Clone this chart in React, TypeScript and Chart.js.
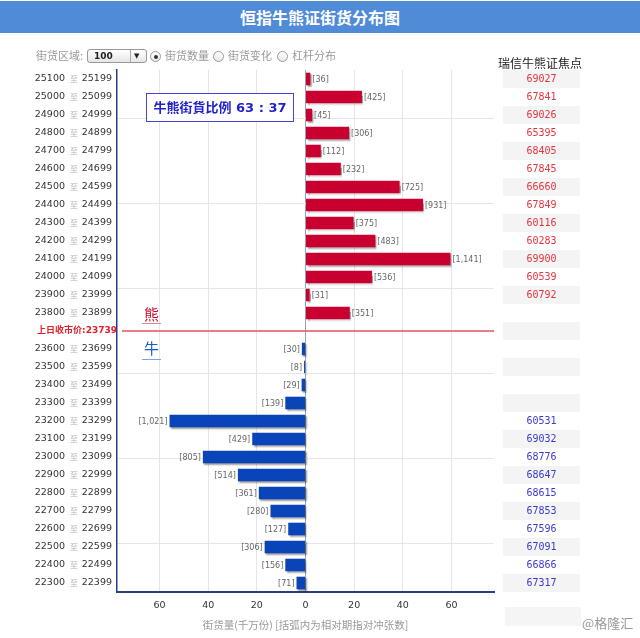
import React, { useEffect, useRef } from "react";
import { Chart, registerables } from "chart.js";
Chart.register(...registerables);

// ---------- data ----------
const bearStarts = [25100, 25000, 24900, 24800, 24700, 24600, 24500, 24400, 24300, 24200, 24100, 24000, 23900, 23800];
const bearValues = [2.0, 23.2, 2.7, 17.9, 6.3, 14.5, 38.7, 48.3, 19.8, 28.7, 59.6, 27.3, 1.7, 18.2];
const bearHedge = ["36", "425", "45", "306", "112", "232", "725", "931", "375", "483", "1,141", "536", "31", "351"];
const bearFocus = ["69027", "67841", "69026", "65395", "68405", "67845", "66660", "67849", "60116", "60283", "69900", "60539", "60792", ""];

const closePrice = 23739;

const bullStarts = [23600, 23500, 23400, 23300, 23200, 23100, 23000, 22900, 22800, 22700, 22600, 22500, 22400, 22300];
const bullValues = [1.5, 0.6, 1.6, 8.3, 55.9, 21.9, 42.2, 27.8, 19.2, 14.4, 7.1, 16.8, 8.3, 3.7];
const bullHedge = ["30", "8", "29", "139", "1,021", "429", "805", "514", "361", "280", "127", "306", "156", "71"];
const bullFocus = ["", "", "", "", "60531", "69032", "68776", "68647", "68615", "67853", "67596", "67091", "66866", "67317"];

const xTicks = [-60, -40, -20, 0, 20, 40, 60];
const ratioText = "牛熊街貨比例 63 : 37";
const titleText = "恒指牛熊证街货分布图";
const xTitle = "街货量(千万份) [括弧内为相对期指对冲张数]";
const focusTitle = "瑞信牛熊证焦点";

const closeLabel = `上日收市价:${closePrice}`;
const categories = [
  ...bearStarts.map((s) => `${s} 至 ${s + 99}`),
  closeLabel,
  ...bullStarts.map((s) => `${s} 至 ${s + 99}`),
];
const closeIndex = bearStarts.length;
const bearData = [...bearValues, null, ...bullStarts.map(() => null)];
const bullData = [...bearStarts.map(() => null), null, ...bullValues.map((v) => -v)];
const hedgeLabels = [...bearHedge, "", ...bullHedge];
const focusRows = [
  ...bearFocus.map((v) => ({ v, c: "#e3343f" })),
  { v: "", c: "#e3343f" },
  ...bullFocus.map((v) => ({ v, c: "#3a3acc" })),
];

const PLOT_TOP = 70;
const ROW_H = 18;

const labelsPlugin = {
  id: "customLabels",
  beforeDatasetsDraw(chart: any) {
    const c = chart.ctx;
    c.save();
    c.shadowColor = "rgba(0,0,0,0.38)";
    c.shadowOffsetX = 1.5;
    c.shadowOffsetY = 1.5;
    c.shadowBlur = 1.5;
  },
  afterDatasetsDraw(chart: any) {
    chart.ctx.restore();
  },
  afterDraw(chart: any) {
    const c = chart.ctx;
    const ys = chart.scales.y;
    const area = chart.chartArea;
    c.save();
    // close price line
    const yc = ys.getPixelForValue(closeIndex);
    c.strokeStyle = "#e0505f";
    c.lineWidth = 1.5;
    c.beginPath();
    c.moveTo(area.left + 5, yc);
    c.lineTo(area.right, yc);
    c.stroke();

    // y labels
    c.textBaseline = "middle";
    (chart.data.labels as string[]).forEach((lab, i) => {
      const y = ys.getPixelForValue(i);
      if (i === closeIndex) {
        c.font = "bold 9px 'DejaVu Sans', 'Noto Sans CJK SC'";
        c.fillStyle = "#e0202f";
        c.textAlign = "right";
        c.fillText(lab, 117, y);
        return;
      }
      const [a, b] = lab.split(" 至 ");
      c.textAlign = "right";
      c.font = "9.5px 'DejaVu Sans'";
      c.fillStyle = "#333";
      c.fillText(b, 112, y);
      c.font = "8px 'Noto Sans CJK SC'";
      c.fillStyle = "#b0b0b0";
      c.textAlign = "center";
      c.fillText("至", 74, y);
      c.font = "9.5px 'DejaVu Sans'";
      c.fillStyle = "#333";
      c.textAlign = "right";
      c.fillText(a, 65, y);
    });

    // bar hedge labels
    c.font = "8px 'DejaVu Sans'";
    c.fillStyle = "#666";
    chart.data.datasets.forEach((ds: any, di: number) => {
      const meta = chart.getDatasetMeta(di);
      meta.data.forEach((el: any, i: number) => {
        const v = ds.data[i];
        if (v === null || v === undefined) return;
        const txt = `[${hedgeLabels[i]}]`;
        if (v >= 0) {
          c.textAlign = "left";
          c.fillText(txt, el.x + 2, el.y + 0.5);
        } else {
          c.textAlign = "right";
          c.fillText(txt, el.x - 2, el.y + 0.5);
        }
      });
    });
    c.restore();
  },
};

function ChartView() {
  const ref = useRef<HTMLCanvasElement | null>(null);
  useEffect(() => {
    if (!ref.current) return;
    const chart = new Chart(ref.current, {
      type: "bar",
      data: {
        labels: categories,
        datasets: [
          { label: "熊", data: bearData as any, backgroundColor: "#c9002f", borderWidth: 0 },
          { label: "牛", data: bullData as any, backgroundColor: "#0a44b9", borderWidth: 0 },
        ],
      },
      options: {
        indexAxis: "y",
        responsive: false,
        animation: false,
        layout: { padding: { top: PLOT_TOP, right: 146, bottom: 0, left: 0 } },
        datasets: { bar: { grouped: false, barPercentage: 0.7, categoryPercentage: 1 } } as any,
        plugins: { legend: { display: false }, tooltip: { enabled: false } },
        scales: {
          x: {
            type: "linear",
            min: -77.5,
            max: 77.5,
            afterBuildTicks: (s: any) => {
              s.ticks = xTicks.map((v) => ({ value: v }));
            },
            afterFit: (s: any) => {
              s.height = 46;
            },
            grid: {
              color: (ctx: any) => (ctx.tick && ctx.tick.value === 0 ? "#9aa2ae" : "#e6e6e6"),
              drawTicks: false,
            },
            border: { color: "#2b3f7e", width: 2 },
            ticks: {
              callback: (v: any) => String(Math.abs(Number(v))),
              color: "#333",
              font: { family: "DejaVu Sans", size: 9.5 },
              padding: 8,
              maxRotation: 0,
              autoSkip: false,
            },
            title: {
              display: true,
              text: xTitle,
              color: "#999",
              font: { family: "Noto Sans CJK SC", size: 10.5, lineHeight: 1.2 },
              padding: { top: 0, bottom: 7 },
            },
          },
          y: {
            type: "category",
            position: "left",
            afterFit: (s: any) => {
              s.width = 117;
            },
            grid: { display: false },
            border: { color: "#2b3f7e", width: 1.5 },
            ticks: { display: false },
          },
          y2: {
            type: "linear",
            position: "right",
            min: -2.4555,
            max: 2.4555,
            afterBuildTicks: (s: any) => {
              s.ticks = [-2, -1, 0, 1, 2].map((v) => ({ value: v }));
            },
            afterFit: (s: any) => {
              s.width = 0;
            },
            grid: { color: "#e6e6e6", drawTicks: false },
            border: { display: false },
            ticks: { display: false },
          },
        } as any,
      },
      plugins: [labelsPlugin],
    });
    return () => chart.destroy();
  }, []);
  return <canvas ref={ref} width={640} height={638} style={{ position: "absolute", left: 0, top: 0 }} />;
}

const cjk = "'Noto Sans CJK SC', 'DejaVu Sans', sans-serif";

function Radio({ x, checked }: { x: number; checked?: boolean }) {
  return (
    <div
      style={{
        position: "absolute",
        left: x - 5,
        top: 51,
        width: 9,
        height: 9,
        borderRadius: "50%",
        border: "1px solid #999",
        background: "linear-gradient(#fff,#e8e8e8)",
      }}
    >
      {checked && (
        <div style={{ position: "absolute", left: 2.5, top: 2.5, width: 4, height: 4, borderRadius: "50%", background: "#333" }} />
      )}
    </div>
  );
}

export default function App() {
  const ctrlText: React.CSSProperties = {
    position: "absolute",
    top: 48,
    fontFamily: cjk,
    fontSize: 11,
    color: "#999",
    lineHeight: "15px",
    whiteSpace: "nowrap",
  };
  return (
    <div
      style={{
        position: "fixed",
        left: 0,
        top: 0,
        width: 640,
        height: 638,
        background: "#fff",
        overflow: "hidden",
      }}
    >
      <ChartView />
      <div
        style={{
          position: "absolute",
          left: 0,
          top: 1,
          width: 640,
          height: 32,
          background: "#4f8bd6",
          color: "#fff",
          fontFamily: cjk,
          fontWeight: "bold",
          fontSize: 16,
          lineHeight: "32px",
          textAlign: "center",
        }}
      >
        {titleText}
      </div>

      {/* controls */}
      <div style={{ ...ctrlText, left: 36 }}>街货区域:</div>
      <div
        style={{
          position: "absolute",
          left: 87,
          top: 49,
          width: 58,
          height: 12,
          border: "1px solid #999",
          borderRadius: 3,
          background: "linear-gradient(#fff,#e6e6e6)",
          fontFamily: "'DejaVu Sans'",
          fontWeight: "bold",
          fontSize: 9,
          lineHeight: "12px",
          color: "#222",
        }}
      >
        <span style={{ position: "absolute", left: 6 }}>100</span>
        <span style={{ position: "absolute", left: 42, top: 0, height: 12, borderLeft: "1px solid #aaa" }} />
        <span style={{ position: "absolute", left: 46, fontSize: 7 }}>▼</span>
      </div>
      <Radio x={155} checked />
      <div style={{ ...ctrlText, left: 165 }}>街货数量</div>
      <Radio x={218} />
      <div style={{ ...ctrlText, left: 228 }}>街货变化</div>
      <Radio x={282} />
      <div style={{ ...ctrlText, left: 292 }}>杠杆分布</div>

      {/* ratio box */}
      <div
        style={{
          position: "absolute",
          left: 146,
          top: 93,
          width: 146,
          height: 27,
          border: "1px solid #4444dd",
          color: "#2222cc",
          fontFamily: "'DejaVu Sans', 'Noto Sans CJK SC'",
          fontWeight: "bold",
          fontSize: 13,
          lineHeight: "27px",
          textAlign: "center",
          background: "#fff",
        }}
      >
        {ratioText}
      </div>

      {/* bear / bull markers */}
      <div
        style={{
          position: "absolute",
          left: 142,
          top: 305,
          width: 19,
          textAlign: "center",
          fontFamily: cjk,
          fontSize: 15,
          lineHeight: "17px",
          color: "#c8102e",
          paddingBottom: 1,
          borderBottom: "1px solid #e58390",
        }}
      >
        熊
      </div>
      <div
        style={{
          position: "absolute",
          left: 142,
          top: 339,
          width: 19,
          textAlign: "center",
          fontFamily: cjk,
          fontSize: 15,
          lineHeight: "17px",
          color: "#1a5dc8",
          paddingBottom: 3,
          borderBottom: "1px solid #7f9fe0",
        }}
      >
        牛
      </div>

      {/* focus table */}
      <div
        style={{
          position: "absolute",
          left: 498,
          top: 56,
          fontFamily: cjk,
          fontSize: 12,
          lineHeight: "14px",
          color: "#222",
          whiteSpace: "nowrap",
        }}
      >
        {focusTitle}
      </div>
      {focusRows.map((r, i) => (
        <div
          key={i}
          style={{
            position: "absolute",
            left: 503,
            top: PLOT_TOP + ROW_H * i,
            width: 77,
            height: ROW_H,
            background: i % 2 === 0 ? "#f4f4f4" : "transparent",
            color: r.c,
            fontFamily: "'DejaVu Sans Mono', monospace",
            fontSize: 10,
            lineHeight: ROW_H + "px",
            textAlign: "center",
          }}
        >
          {r.v}
        </div>
      ))}

      {/* footer */}
      <div style={{ position: "absolute", left: 505, top: 607, width: 76, height: 19, background: "#f5f5f5" }} />
      <div
        style={{
          position: "absolute",
          left: 582,
          top: 615,
          fontFamily: cjk,
          fontSize: 13,
          lineHeight: "16px",
          color: "#999",
          whiteSpace: "nowrap",
        }}
      >
        @格隆汇
      </div>
    </div>
  );
}
